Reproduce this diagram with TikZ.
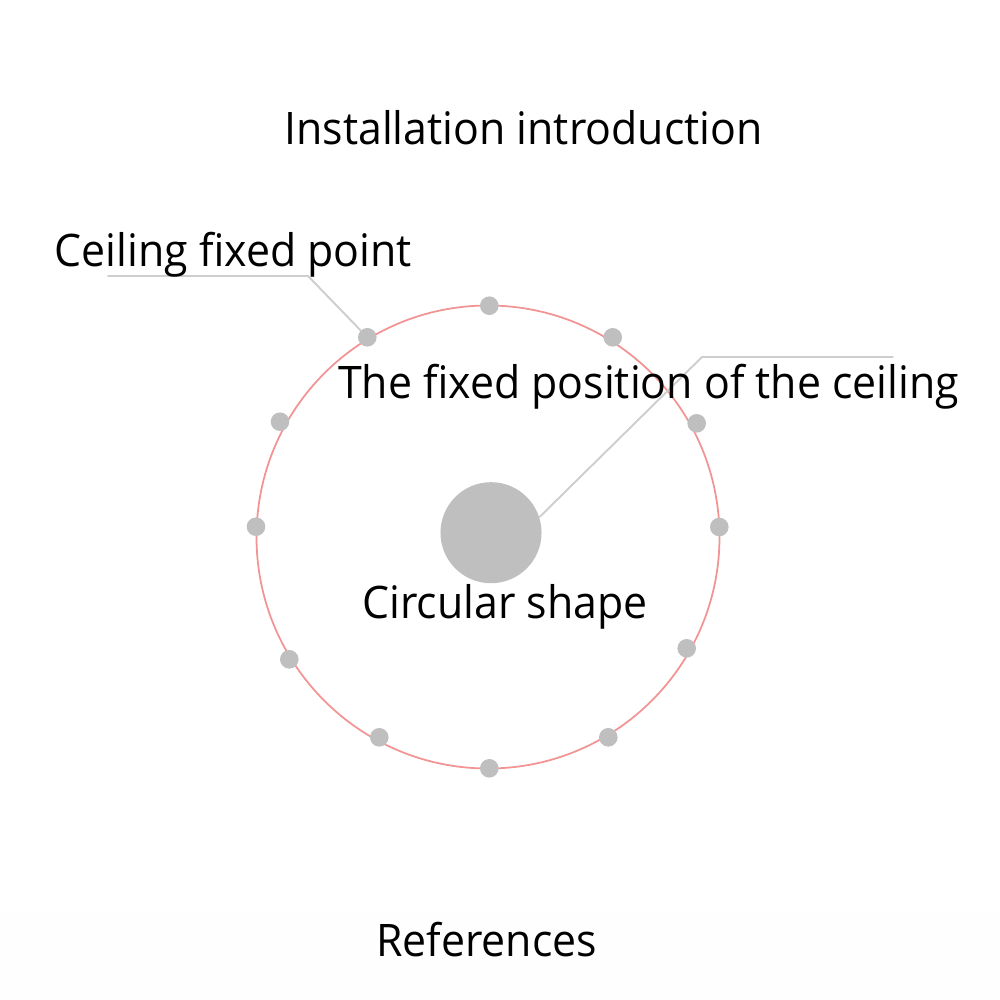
\documentclass[tikz,border=0pt]{standalone}
\usepackage{fontspec}
\setmainfont{Open Sans}[FakeStretch=0.955]
\definecolor{ringred}{RGB}{242,148,148}
\definecolor{dotgray}{RGB}{191,191,191}
\definecolor{leadgray}{RGB}{206,206,206}
\tikzset{every node/.style={inner sep=0pt},every path/.style={line cap=round,line join=round},
  fixdot/.style={circle,fill=dotgray,minimum size=0.186cm},
  lead/.style={draw=leadgray,line width=0.55pt},
  lbl/.style={anchor=base,font=\fontsize{12.75}{15}\selectfont}}

\begin{document}
\begin{tikzpicture}[x=0.01cm,y=-0.01cm]
  \useasboundingbox (0,0) rectangle (1000,1000);
  \fill[black!0.4] (0,912) rectangle (1000,1000);
  \draw[draw=ringred,line width=0.5pt] (488,537) circle (231.5);
  \foreach \n/\x/\y in {1/489.3/305.7,2/612.7/337.3,3/696.7/423.3,4/719.3/527,5/686.7/648.3,6/608.3/737.3,
                        7/489.3/768.3,8/379.3/737.3,9/289.3/659.3,10/256/526.7,11/280/421.7,12/367.3/337.3}
    \node[fixdot] (p\n) at (\x,\y) {};
  \node[circle,fill=dotgray,minimum size=1.01cm] (hub) at (491,532.7) {};
  \coordinate (c1a) at (108,276);
  \coordinate (c1b) at (308,276);
  \coordinate (c2a) at (893,357);
  \coordinate (c2b) at (702,357);
  \draw[lead] (c1a) -- (c1b) -- (p12);
  \draw[lead] (hub.18) -- (c2b) -- (c2a);
  \node[lbl] (title) at (523.5,144) {Installation introduction};
  \node[lbl] (fixpt) at (233.3,266.7) {Ceiling fixed point};
  \node[lbl] (fixpos) at (648.5,398.3) {The fixed position of the ceiling};
  \node[lbl] (shape) at (505,618.3) {Circular shape};
  \node[lbl] (refs) at (486.5,956) {References};
\end{tikzpicture}
\end{document}
